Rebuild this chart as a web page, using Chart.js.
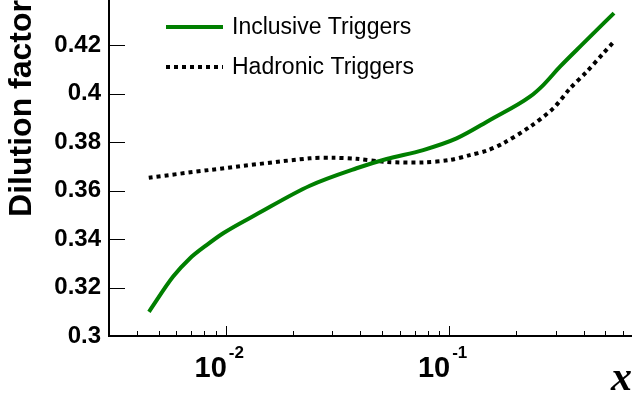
<!DOCTYPE html>
<html>
<head>
<meta charset="utf-8">
<script src="https://cdn.jsdelivr.net/npm/chart.js@4/dist/chart.umd.min.js"></script>
<style>
html, body { margin: 0; padding: 0; background: #fff; }
#wrap { width: 632px; height: 402px; }
</style>
</head>
<body>
<div id="wrap"><canvas id="chart"></canvas></div>
<script>
// Values
const inclusiveX = [0.00453, 0.00581, 0.0069, 0.0082, 0.00973, 0.01373, 0.02378, 0.03848, 0.05245, 0.07648, 0.1079, 0.1522, 0.2298, 0.2636, 0.3133, 0.3983, 0.5466];
const inclusiveY = [0.3100, 0.3245, 0.3320, 0.3375, 0.3424, 0.3502, 0.3620, 0.3692, 0.3730, 0.3767, 0.3815, 0.3891, 0.3987, 0.4035, 0.4111, 0.4207, 0.4332];
const hadronicX = [0.00452, 0.00848, 0.02378, 0.03023, 0.03848, 0.05245, 0.07648, 0.1007, 0.1238, 0.1466, 0.1745, 0.2298, 0.2923, 0.3472, 0.4124, 0.4894, 0.5393];
const hadronicY = [0.3653, 0.3685, 0.3733, 0.3735, 0.3731, 0.3718, 0.3716, 0.3726, 0.3746, 0.3764, 0.3795, 0.3863, 0.3939, 0.4021, 0.4090, 0.4166, 0.4209];

const seriesNames = ['Inclusive Triggers', 'Hadronic Triggers'];
const xMajorTicks = [0.01, 0.1];
const xMajorExponents = ['-2', '-1'];
const xMinorTicks = [0.003, 0.004, 0.005, 0.006, 0.007, 0.008, 0.009,
                     0.02, 0.03, 0.04, 0.05, 0.06, 0.07, 0.08, 0.09,
                     0.2, 0.3, 0.4, 0.5, 0.6];

const toPoints = (xs, ys) => xs.map((x, i) => ({ x: x, y: ys[i] }));

// Inward tick marks, ROOT style
const axisTicks = {
    id: 'axisTicks',
    afterDraw(chart) {
        const ctx = chart.ctx;
        const xs = chart.scales.x;
        const ys = chart.scales.y;
        const area = chart.chartArea;
        ctx.save();
        ctx.strokeStyle = '#000';
        ctx.lineWidth = 1;
        ctx.beginPath();
        ys.ticks.forEach(t => {
            const py = Math.round(ys.getPixelForValue(t.value)) + 0.5;
            ctx.moveTo(area.left, py);
            ctx.lineTo(area.left + 16, py);
        });
        xMinorTicks.forEach(v => {
            const px = Math.round(xs.getPixelForValue(v)) + 0.5;
            ctx.moveTo(px, area.bottom);
            ctx.lineTo(px, area.bottom - 5);
        });
        xMajorTicks.forEach(v => {
            const px = Math.round(xs.getPixelForValue(v)) + 0.5;
            ctx.moveTo(px, area.bottom);
            ctx.lineTo(px, area.bottom - 10);
        });
        ctx.stroke();

        // x tick labels as 10^n
        ctx.fillStyle = '#000';
        ctx.textBaseline = 'alphabetic';
        xMajorTicks.forEach((v, i) => {
            const px = xs.getPixelForValue(v);
            ctx.font = 'bold 29px "Liberation Sans", Arial, sans-serif';
            ctx.textAlign = 'right';
            ctx.fillText('10', px + 1, 377);
            ctx.font = 'bold 17px "Liberation Sans", Arial, sans-serif';
            ctx.textAlign = 'left';
            ctx.fillText(xMajorExponents[i], px + 3, 358);
        });
        ctx.restore();
    }
};

// Legend inside the plot
const innerLegend = {
    id: 'innerLegend',
    afterDatasetsDraw(chart) {
        const ctx = chart.ctx;
        ctx.save();
        chart.data.datasets.forEach((ds, i) => {
            const y = 27 + i * 40;
            ctx.strokeStyle = ds.borderColor;
            ctx.lineWidth = ds.borderWidth;
            ctx.setLineDash(ds.borderDash || []);
            ctx.beginPath();
            ctx.moveTo(166, y);
            ctx.lineTo(223, y);
            ctx.stroke();
            ctx.setLineDash([]);
            ctx.fillStyle = '#000';
            ctx.font = '23px "Liberation Sans", Arial, sans-serif';
            ctx.textAlign = 'left';
            ctx.textBaseline = 'middle';
            ctx.fillText(ds.label, 232, y + 1);
        });
        ctx.restore();
    }
};

const ctx = document.getElementById('chart').getContext('2d');
new Chart(ctx, {
    type: 'line',
    data: {
        datasets: [{
            label: seriesNames[0],
            data: toPoints(inclusiveX, inclusiveY),
            borderColor: '#007f00',
            borderWidth: 4,
            pointRadius: 0,
            fill: false,
            cubicInterpolationMode: 'monotone'
        }, {
            label: seriesNames[1],
            data: toPoints(hadronicX, hadronicY),
            borderColor: '#000',
            borderWidth: 4,
            borderDash: [4, 4],
            borderCapStyle: 'butt',
            pointRadius: 0,
            fill: false,
            tension: 0.3
        }]
    },
    options: {
        responsive: true,
        maintainAspectRatio: false,
        animation: false,
        layout: { padding: 0 },
        plugins: {
            legend: { display: false },
            tooltip: { enabled: false }
        },
        scales: {
            x: {
                type: 'logarithmic',
                min: 0.003,
                max: 0.658,
                grid: { display: false },
                border: { display: true, color: '#000', width: 2 },
                ticks: { display: false },
                title: {
                    display: true,
                    text: 'x',
                    align: 'end',
                    color: '#000',
                    font: { family: '"Liberation Serif", "Times New Roman", serif', size: 42, weight: 'bold', style: 'italic', lineHeight: 1 },
                    padding: { top: 0, bottom: 2 }
                },
                afterFit: s => { s.height = 66; s.paddingLeft = 0; s.paddingRight = 0; }
            },
            y: {
                type: 'linear',
                min: 0.3,
                max: 0.4386,
                grid: { display: false, drawTicks: false },
                border: { display: true, color: '#000', width: 2 },
                ticks: {
                    stepSize: 0.02,
                    includeBounds: false,
                    padding: 8,
                    color: '#000',
                    font: { family: '"Liberation Sans", Arial, sans-serif', size: 24, weight: 'bold' },
                    callback: v => String(+v.toFixed(2))
                },
                title: {
                    display: true,
                    text: 'Dilution factor',
                    align: 'end',
                    color: '#000',
                    font: { family: '"Liberation Sans", Arial, sans-serif', size: 32, weight: 'bold', lineHeight: 1.2 },
                    padding: { top: 3, bottom: 0 }
                },
                afterFit: s => { s.width = 109; s.paddingTop = 0; s.paddingBottom = 0; }
            }
        }
    },
    plugins: [axisTicks, innerLegend]
});
</script>
</body>
</html>
